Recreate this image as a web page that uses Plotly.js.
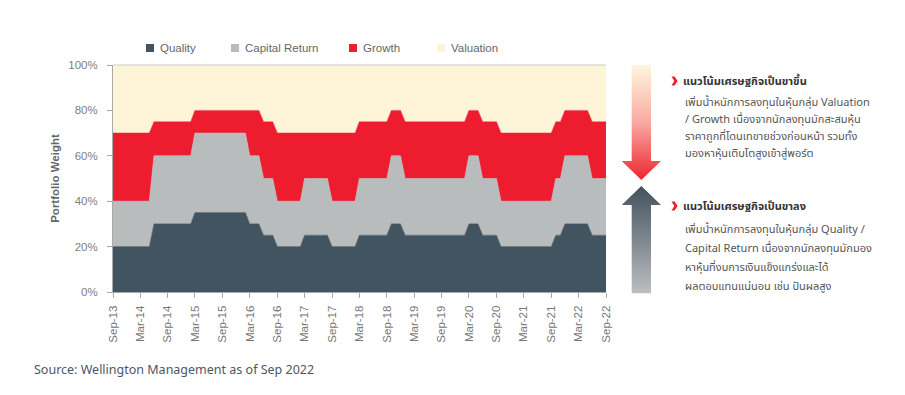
<!DOCTYPE html>
<html>
<head>
<meta charset="utf-8">
<script src="https://cdn.plot.ly/plotly-3.0.1.min.js"></script>
<style>html,body{margin:0;padding:0;background:#fff;}#chart{width:905px;height:395px;}</style>
</head>
<body>
<div id="chart"></div>
<script>
// ---- Data ----
const dates = ['2013-09-01','2014-05-01','2014-06-01','2015-02-01','2015-03-01','2016-02-01','2016-03-01','2016-05-01',
  '2016-06-01','2016-08-01','2016-09-01','2017-02-01','2017-03-01','2017-08-01','2017-09-01','2018-02-01','2018-03-01',
  '2018-09-01','2018-10-01','2018-12-01','2019-01-01','2020-02-01','2020-03-01','2020-05-01','2020-06-01','2020-09-01',
  '2020-10-01','2021-09-01','2021-10-01','2021-11-01','2021-12-01','2022-05-01','2022-06-01','2022-09-01'];
const quality       = [20,20,30,30,35,35,30,30,25,25,20,20,25,25,20,20,25,25,30,30,25,25,30,30,25,25,20,20,25,25,30,30,25,25];
const capitalReturn = [20,20,30,30,35,35,30,30,25,25,20,20,25,25,20,20,25,25,30,30,25,25,30,30,25,25,20,20,25,25,30,30,25,25];
const growth        = [30,30,15,15,10,10,20,20,25,25,30,30,20,20,30,30,25,25,20,20,25,25,20,20,25,25,30,30,25,25,20,20,25,25];
const valuation     = [30,30,25,25,20,20,20,20,25,25,30,30,30,30,30,30,25,25,20,20,25,25,20,20,25,25,30,30,25,25,20,20,25,25];
const seriesNames = ['Quality','Capital Return','Growth','Valuation'];
const tickDates = ['2013-09-01','2014-03-01','2014-09-01','2015-03-01','2015-09-01','2016-03-01','2016-09-01','2017-03-01',
  '2017-09-01','2018-03-01','2018-09-01','2019-03-01','2019-09-01','2020-03-01','2020-09-01','2021-03-01','2021-09-01',
  '2022-03-01','2022-09-01'];
const tickLabels = ['Sep-13','Mar-14','Sep-14','Mar-15','Sep-15','Mar-16','Sep-16','Mar-17','Sep-17','Mar-18','Sep-18',
  'Mar-19','Sep-19','Mar-20','Sep-20','Mar-21','Sep-21','Mar-22','Sep-22'];
const yTicks = [0,20,40,60,80,100];
const yTickLabels = ['0%','20%','40%','60%','80%','100%'];
const upTitle = 'แนวโน้มเศรษฐกิจเป็นขาขึ้น';
const upLines = ['เพิ่มน้ำหนักการลงทุนในหุ้นกลุ่ม Valuation','/ Growth เนื่องจากนักลงทุนมักสะสมหุ้น','ราคาถูกที่โดนเทขายช่วงก่อนหน้า รวมทั้ง','มองหาหุ้นเติบโตสูงเข้าสู่พอร์ต'];
const downTitle = 'แนวโน้มเศรษฐกิจเป็นขาลง';
const downLines = ['เพิ่มน้ำหนักการลงทุนในหุ้นกลุ่ม Quality /','Capital Return เนื่องจากนักลงทุนมักมอง','หาหุ้นที่งบการเงินแข็งแกร่งและได้','ผลตอบแทนแน่นอน เช่น ปันผลสูง'];
const sourceText = 'Source: Wellington Management as of Sep 2022';

// ---- Styling ----
const colors = ['#425460','#b9bcbd','#ee1c2f','#fef5d9'];
const narrow = 'Liberation Sans, Arial, sans-serif';
const W = 905, H = 395, L = 113, R = 606, T = 65, B = 292;
const px2x = px => (px - L) / (R - L);
const py2y = py => (B - py) / (B - T);

const values = [quality, capitalReturn, growth, valuation];
const traces = values.map((v, i) => ({
  type: 'scatter', mode: 'lines', x: dates, y: v, name: seriesNames[i],
  stackgroup: 'one', fill: 'tonexty', fillcolor: colors[i],
  line: {width: 0.6, color: colors[i], shape: 'linear'},
  showlegend: false, hoverinfo: 'x+y+name'
}));

const shapes = [
  {type:'line', xref:'paper', yref:'paper', x0:0, x1:1, y0:1, y1:1, line:{color:'#cccccc', width:1}}
];
const annotations = [];
// manual legend
const legX = [146, 231, 349, 437];
seriesNames.forEach((n, i) => {
  shapes.push({type:'rect', xref:'paper', yref:'paper', x0:px2x(legX[i]), x1:px2x(legX[i]+8), y0:py2y(52), y1:py2y(44),
    fillcolor: colors[i], line:{width:0}});
  annotations.push({xref:'paper', yref:'paper', x:px2x(legX[i]+12), y:py2y(48), xanchor:'left', yanchor:'middle',
    text:n, showarrow:false, font:{family:narrow, size:11.5, color:'#666666'}});
});
// right-hand notes
const thai = 'Noto Sans Thai, Noto Sans, DejaVu Sans, sans-serif';
annotations.push({xref:'paper', yref:'paper', x:px2x(681), y:py2y(81), xanchor:'left', yanchor:'middle',
  text:'<b>'+upTitle+'</b>', showarrow:false, font:{family:thai, size:11, color:'#333333'}});
upLines.forEach((t, i) => annotations.push({xref:'paper', yref:'paper', x:px2x(683), y:py2y(102 + i*17), xanchor:'left', yanchor:'middle',
  text:t, showarrow:false, font:{family:thai, size:11, color:'#555555'}}));
annotations.push({xref:'paper', yref:'paper', x:px2x(681), y:py2y(206), xanchor:'left', yanchor:'middle',
  text:'<b>'+downTitle+'</b>', showarrow:false, font:{family:thai, size:11, color:'#333333'}});
downLines.forEach((t, i) => annotations.push({xref:'paper', yref:'paper', x:px2x(683), y:py2y(229 + i*19), xanchor:'left', yanchor:'middle',
  text:t, showarrow:false, font:{family:thai, size:11, color:'#555555'}}));
annotations.push({xref:'paper', yref:'paper', x:px2x(32), y:py2y(369), xanchor:'left', yanchor:'middle',
  text:sourceText, showarrow:false, font:{family:'Noto Sans, Open Sans, sans-serif', size:12.5, color:'#4b5763'}});

// arrows + chevrons drawn as an SVG image
const svg = `<svg xmlns='http://www.w3.org/2000/svg' width='70' height='240' viewBox='615 60 70 240'>
<defs>
<linearGradient id='gd' x1='0' y1='0' x2='0' y2='1'><stop offset='0' stop-color='#fef6dc'/><stop offset='0.5' stop-color='#f9a9a2'/><stop offset='1' stop-color='#ee2530'/></linearGradient>
<linearGradient id='gu' x1='0' y1='0' x2='0' y2='1'><stop offset='0' stop-color='#41515d'/><stop offset='1' stop-color='#bcbec0'/></linearGradient>
</defs>
<path d='M631.7,65 H651 V161 H661 L641.3,180 L621.7,161 H631.7 Z' fill='url(#gd)'/>
<path d='M641.3,186 L661,205 H651 V293.3 H631.7 V205 H621.7 Z' fill='url(#gu)'/>
<path d='M671.5,76.5 L674.6,76.5 L677.6,81 L674.6,85.5 L671.5,85.5 L674.3,81 Z' fill='#e8202e'/>
<path d='M671.5,201.5 L674.6,201.5 L677.6,206 L674.6,210.5 L671.5,210.5 L674.3,206 Z' fill='#e8202e'/>
</svg>`;
const images = [{source:'data:image/svg+xml;charset=utf-8,' + encodeURIComponent(svg), xref:'paper', yref:'paper',
  x:px2x(615), y:py2y(60), sizex:70/(R-L), sizey:240/(B-T), sizing:'stretch', xanchor:'left', yanchor:'top', layer:'above'}];

const layout = {
  width: W, height: H, margin:{l:L, r:W-R, t:T, b:H-B, pad:0},
  paper_bgcolor:'#ffffff', plot_bgcolor:'#ffffff', showlegend:false,
  xaxis:{type:'date', range:['2013-09-01','2022-09-01'], tickmode:'array', tickvals:tickDates, ticktext:tickLabels, tickangle:-90,
    ticks:'outside', ticklen:5, tickcolor:'#aaaaaa', showline:true, linecolor:'#aaaaaa', linewidth:1, showgrid:false,
    zeroline:false, ticklabelstandoff:3, tickfont:{family:narrow, size:11.5, color:'#777777'}, fixedrange:true},
  yaxis:{range:[0,100], tickmode:'array', tickvals:yTicks, ticktext:yTickLabels, ticks:'outside', ticklen:5, tickcolor:'#aaaaaa',
    showline:true, linecolor:'#aaaaaa', linewidth:1, showgrid:false, zeroline:false, ticklabelstandoff:7,
    tickfont:{family:narrow, size:11.5, color:'#808080'},
    title:{text:'<b>Portfolio Weight</b>', font:{family:narrow, size:11.5, color:'#666666'}, standoff:6}, fixedrange:true},
  shapes, annotations, images
};
Plotly.newPlot('chart', traces, layout, {displayModeBar:false, staticPlot:true});
</script>
</body>
</html>
